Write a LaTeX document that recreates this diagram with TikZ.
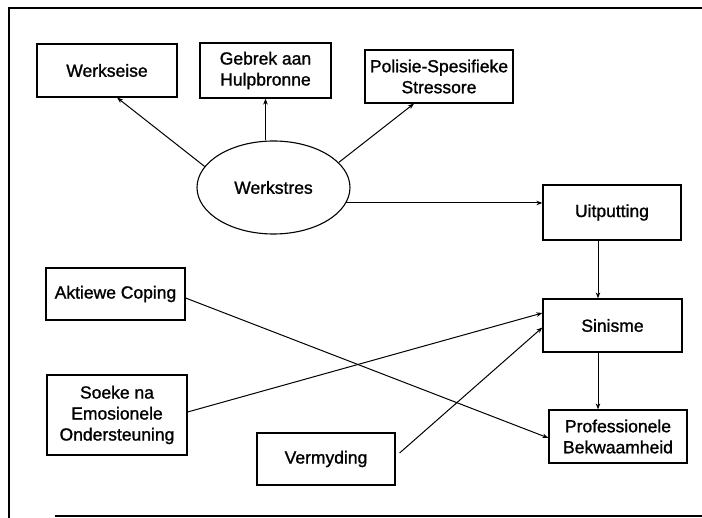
\documentclass[tikz,border=0pt]{standalone}
\usepackage{fontspec}
\setmainfont{Liberation Sans}[RawFeature={embolden=1.2}]
\usetikzlibrary{shapes.geometric,arrows.meta,calc}
\begin{document}
\begin{tikzpicture}[x=1pt,y=-1pt,
  box/.style={draw,line width=1.2pt,inner sep=0pt,align=center,font=\fontsize{17.5}{21}\selectfont},
  ell/.style={draw,ellipse,line width=1.1pt,inner sep=0pt,font=\fontsize{17.5}{21}\selectfont},
  arr/.style={line width=1pt,-{Stealth[length=6pt,width=4.5pt]}},
  frameline/.style={line width=2.2pt}]
\useasboundingbox (0,0) rectangle (702,518);
% frame
\draw[frameline] (8,8) -- (702,8);
\draw[frameline] (9,8) -- (9,518);
\draw[frameline] (55,516) -- (702,516);
% nodes
\node[box,minimum width=140pt,minimum height=53pt] (werk) at (107,70.5) {Werkseise};
\node[box,minimum width=131pt,minimum height=55pt] (geb) at (265.5,70.5) {Gebrek aan\\Hulpbronne};
\node[box,minimum width=148pt,minimum height=53pt] (pol) at (439,76.5) {Polisie-Spesifieke\\Stressore};
\node[ell,minimum width=153pt,minimum height=93pt] (ws) at (273.5,187.5) {Werkstres};
\node[box,minimum width=138pt,minimum height=55pt] (uit) at (612,212.5) {Uitputting};
\node[box,minimum width=139pt,minimum height=53pt] (sin) at (612.5,325.5) {Sinisme};
\node[box,minimum width=138pt,minimum height=53pt] (prof) at (618,436.5) {Professionele\\Bekwaamheid};
\node[box,minimum width=139pt,minimum height=52pt] (akt) at (115.5,294) {Aktiewe Coping};
\node[box,minimum width=140pt,minimum height=80pt] (soek) at (117,415) {Soeke na\\Emosionele\\Ondersteuning};
\node[box,minimum width=138pt,minimum height=52pt] (verm) at (326,459) {Vermyding};
% connectors
\draw[arr] (ws.163) -- ($(werk.south)+(10,0)$);
\draw[arr] (ws.north -| geb.south) -- (geb.south);
\draw[arr] (ws.21) -- ($(pol.south)+(-25,0)$);
\draw[arr] (ws.-12) -- (ws.-12 -| uit.west);
\draw[arr] ($(uit.south)+(-14,0)$) -- ($(sin.north)+(-14.5,0)$);
\draw[arr] ($(sin.south)+(-14.5,0)$) -- ($(prof.north)+(-20,0)$);
\draw[arr] ($(akt.east)+(0,4)$) -- ($(prof.west)+(0,1.5)$);
\draw[arr] ($(soek.east)+(0,-3)$) -- ($(sin.west)+(0,-12.5)$);
\draw[arr] ($(verm.east)+(4,-6)$) -- ($(sin.west)+(0,2)$);
\end{tikzpicture}
\end{document}
